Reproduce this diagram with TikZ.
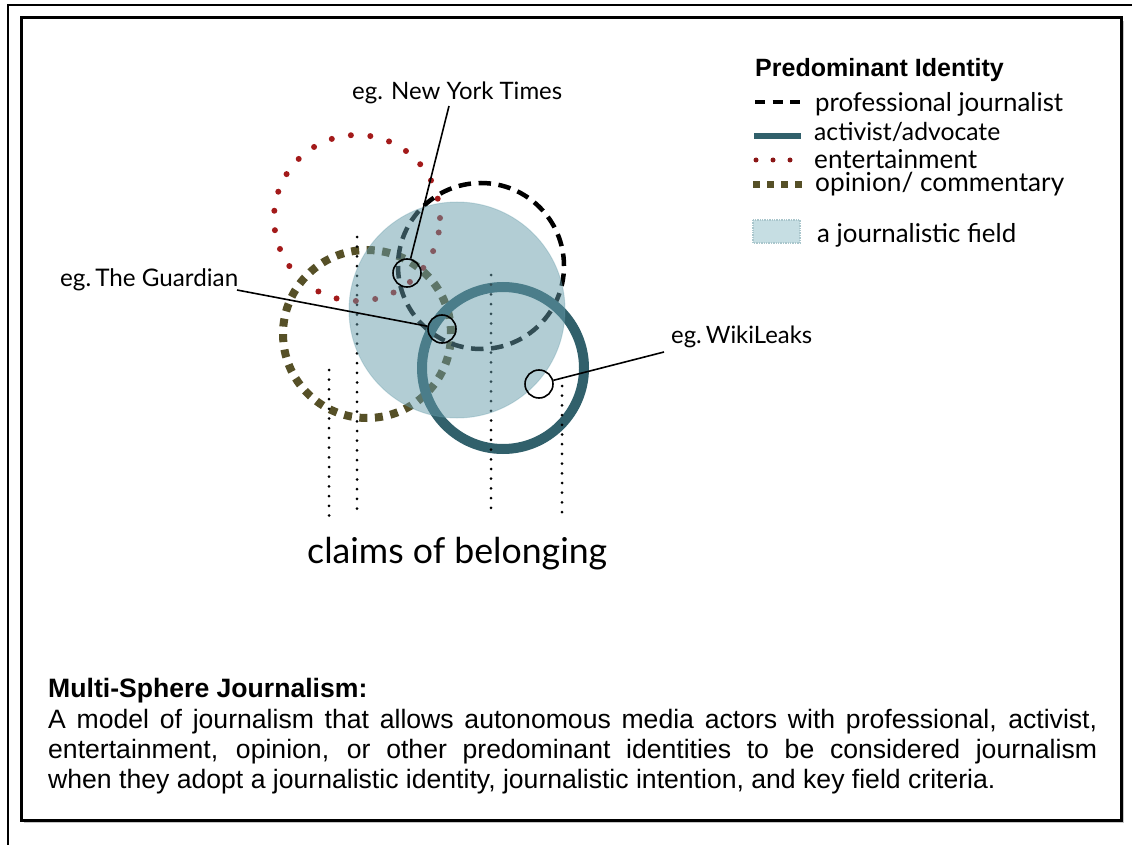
\documentclass[tikz,border=0pt]{standalone}
\usepackage{fontspec}
\usepackage{graphicx}
\setmainfont{Liberation Sans}
\newfontfamily\gill{Lato}

\definecolor{entred}{HTML}{A31A1A}
\definecolor{opolive}{HTML}{565027}
\definecolor{actteal}{HTML}{31606B}
\definecolor{fieldblue}{HTML}{659BA9}
\definecolor{legfield}{HTML}{C6DEE3}
\definecolor{legedge}{HTML}{A9C6CC}

\begin{document}
\begin{tikzpicture}[x=1pt, y=-1pt,
  lbl/.style={anchor=base west, inner sep=0pt, font=\gill\fontsize{20}{24}\selectfont},
  body/.style={anchor=base west, inner sep=0pt, font=\fontsize{26.6}{30}\selectfont},
  legtitle/.style={anchor=base west, inner sep=0pt, font=\bfseries\fontsize{25}{30}\selectfont},
  marker/.style={circle, draw=black, line width=1.6pt, minimum size=28pt, inner sep=0pt},
  leader/.style={draw=black, line width=1.6pt},
  sphere/.style={circle, inner sep=0pt, minimum size=#1},
  claimline/.style={line width=3pt, dash pattern=on 0pt off 9.7pt, line cap=round},
]
\useasboundingbox (0,0) rectangle (1132,845);

% frames
\draw[line width=1.2pt] (8,845) -- (8,5) -- (1132,5);
\draw[gray!45, line width=1.2pt] (1123.5,21) -- (1123.5,822.5) -- (24,822.5);
\draw[line width=3pt] (21,18) rectangle (1121,820);

% the identity spheres
\node[sphere=166pt, draw=entred, line width=6pt, line cap=round,
      dash pattern=on 0pt off 19.5pt] (ent) at (357,218) {};
\node[sphere=168pt, draw=opolive, line width=8pt,
      dash pattern=on 8pt off 7.53pt] (opi) at (367,334) {};
\node[sphere=166pt, draw=black, line width=4.5pt,
      dash pattern=on 12.5pt off 7.56pt] (pro) at (481,266) {};
\node[sphere=162pt, draw=actteal, line width=10pt] (act) at (503,368) {};

% claims of belonging
\coordinate (c1t) at (329,370); \coordinate (c1b) at (329,520);
\coordinate (c2t) at (357,237); \coordinate (c2b) at (357,516);
\coordinate (c3t) at (491,275); \coordinate (c3b) at (491,513);
\coordinate (c4t) at (562,386); \coordinate (c4b) at (562,519);
\draw[claimline] (c1t) -- (c1b);
\draw[claimline] (c2t) -- (c2b);
\draw[claimline] (c3t) -- (c3b);
\draw[claimline] (c4t) -- (c4b);

% the journalistic field
\node[sphere=216pt, fill=fieldblue, fill opacity=0.5, draw=fieldblue,
      draw opacity=0.3, line width=1pt] (field) at (457,310) {};

% examples
\node[marker] (nytc) at (407,273) {};
\node[marker] (guac) at (442,329) {};
\node[marker] (wikc) at (539,384) {};

\node[lbl] (nyt) at (352,100) {\resizebox{210pt}{!}{eg. New York Times}};
\coordinate (nytfoot) at (449,106);
\draw[leader] (nytfoot) -- (nytc);

\node[lbl] (gua) at (60,286) {\resizebox{178pt}{!}{eg.\,The Guardian}};
\coordinate (guafoot) at (237,290);
\draw[leader] (guafoot) -- (guac);

\node[lbl] (wik) at (671,343) {\resizebox{141pt}{!}{eg.\,WikiLeaks}};
\coordinate (wikfoot) at (664,352);
\draw[leader] (wikfoot) -- (wikc);

\node[lbl] (claims) at (307,563) {\resizebox{300pt}{!}{claims of belonging}};

% legend
\node[legtitle] (legt) at (755,77) {Predominant Identity};
\coordinate (k1a) at (755,102); \coordinate (k1b) at (800,102);
\draw[black, line width=4pt, dash pattern=on 10pt off 7.5pt] (k1a) -- (k1b);
\coordinate (k2a) at (754,136); \coordinate (k2b) at (801,136);
\draw[actteal, line width=6.5pt] (k2a) -- (k2b);
\coordinate (k3a) at (756,160); \coordinate (k3b) at (791,160);
\draw[entred!85!black, line width=5pt, line cap=round,
      dash pattern=on 0pt off 17pt] (k3a) -- (k3b);
\coordinate (k4a) at (753,185); \coordinate (k4b) at (802,185);
\draw[opolive, line width=7pt, dash pattern=on 7pt off 7pt] (k4a) -- (k4b);
\coordinate (k5a) at (753,220); \coordinate (k5b) at (800,243);
\filldraw[fill=legfield, draw=legedge, line width=1.4pt, densely dotted] (k5a) rectangle (k5b);

\node[lbl] (l1) at (815,112) {\resizebox{248pt}{!}{professional journalist}};
\node[lbl] (l2) at (814,141) {\resizebox{186pt}{!}{activist/advocate}};
\node[lbl] (l3) at (814,168) {\resizebox{163pt}{!}{entertainment}};
\node[lbl] (l4) at (815,192) {\resizebox{249pt}{!}{opinion/ commentary}};
\node[lbl] (l5) at (817,243) {\resizebox{199pt}{!}{a journalistic field}};

% caption
\node[body, font=\bfseries\fontsize{26.6}{30}\selectfont] (ttl) at (48,697) {Multi-Sphere Journalism:};
\node[body] (p1) at (48,728) {\makebox[1049pt][s]{A model of journalism that allows autonomous media actors with professional, activist,}};
\node[body] (p2) at (48,758) {\makebox[1049pt][s]{entertainment, opinion, or other predominant identities to be considered journalism}};
\node[body] (p3) at (48,788) {when they adopt a journalistic identity, journalistic intention, and key field criteria.};
\end{tikzpicture}
\end{document}
